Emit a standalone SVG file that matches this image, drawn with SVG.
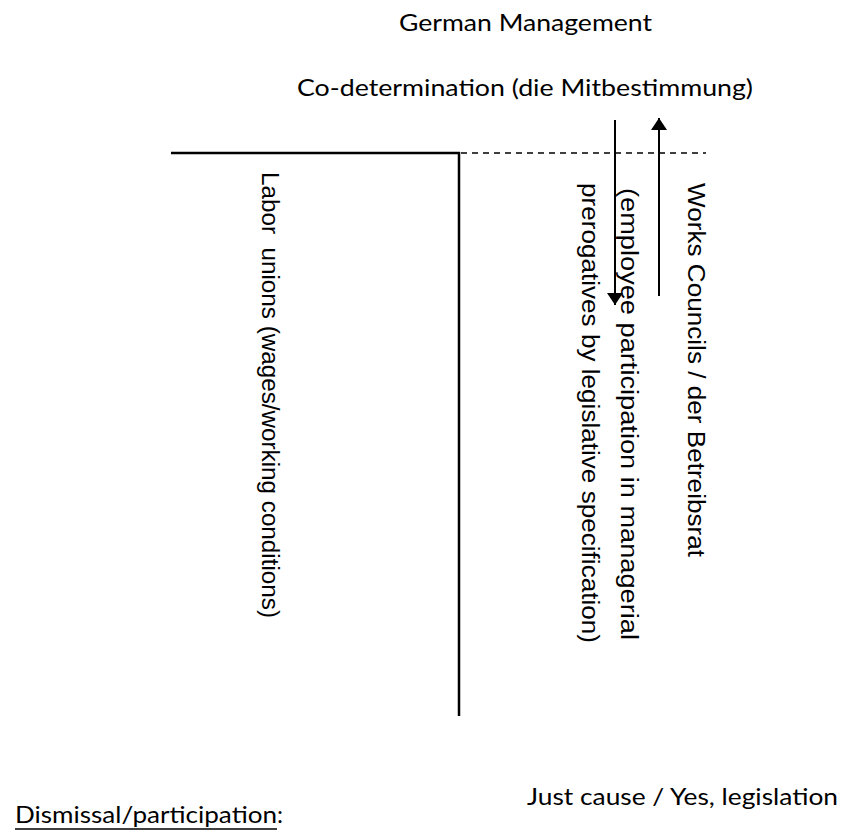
<svg xmlns="http://www.w3.org/2000/svg" width="845" height="838" viewBox="0 0 845 838">
<style>
.cal{font-family:Lato,"Open Sans","Liberation Sans",sans-serif;font-size:23px;fill:#000}
.ari{font-family:"Liberation Sans",Arial,sans-serif;font-size:23px;fill:#000}
.ln{stroke:#000;stroke-width:2.5;fill:none}
.dash{stroke:#000;stroke-width:1.5;stroke-dasharray:6 5;fill:none}
.arr{stroke:#000;stroke-width:2;fill:none}
</style>
<defs>
<marker id="ah" viewBox="0 0 12 16" refX="12" refY="8" markerWidth="12" markerHeight="16" markerUnits="userSpaceOnUse" orient="auto">
<path d="M0,0 L12,8 L0,16 Z" fill="#000"/>
</marker>
</defs>
<rect width="845" height="838" fill="#fff"/>
<g id="title">
<text class="cal" x="399" y="31" textLength="253" lengthAdjust="spacingAndGlyphs">German Management</text>
<text class="cal" x="297" y="96" textLength="456" lengthAdjust="spacingAndGlyphs">Co-determination (die Mitbestimmung)</text>
</g>
<g id="frame">
<line class="ln" x1="171" y1="153" x2="460" y2="153"/>
<line class="ln" x1="459" y1="152" x2="459" y2="716"/>
<line class="dash" x1="461" y1="153" x2="706" y2="153"/>
</g>
<g id="connectors">
<line class="arr" x1="615" y1="120" x2="615" y2="305" marker-end="url(#ah)"/>
<line class="arr" x1="659" y1="296" x2="659" y2="118" marker-end="url(#ah)"/>
</g>
<g id="labor">
<text class="ari" transform="translate(262,172) rotate(90)" textLength="446" lengthAdjust="spacingAndGlyphs" xml:space="preserve">Labor  unions (wages/working conditions)</text>
</g>
<g id="participation">
<text class="ari" transform="translate(621,188) rotate(90)" textLength="452" lengthAdjust="spacingAndGlyphs">(employee participation in managerial</text>
<text class="ari" transform="translate(582,183) rotate(90)" textLength="460" lengthAdjust="spacingAndGlyphs">prerogatives by legislative specification)</text>
</g>
<g id="works">
<text class="ari" transform="translate(688,183) rotate(90)" textLength="374" lengthAdjust="spacingAndGlyphs">Works Councils / der Betreibsrat</text>
</g>
<g id="bottom">
<text class="cal" x="15" y="823" textLength="262" lengthAdjust="spacingAndGlyphs">Dismissal/participation</text>
<line x1="15" y1="829" x2="277" y2="829" stroke="#000" stroke-width="1.5"/>
<text class="cal" x="277" y="823" textLength="6" lengthAdjust="spacingAndGlyphs">:</text>
<text class="cal" x="527" y="805" textLength="311" lengthAdjust="spacingAndGlyphs">Just cause / Yes, legislation</text>
</g>
</svg>
